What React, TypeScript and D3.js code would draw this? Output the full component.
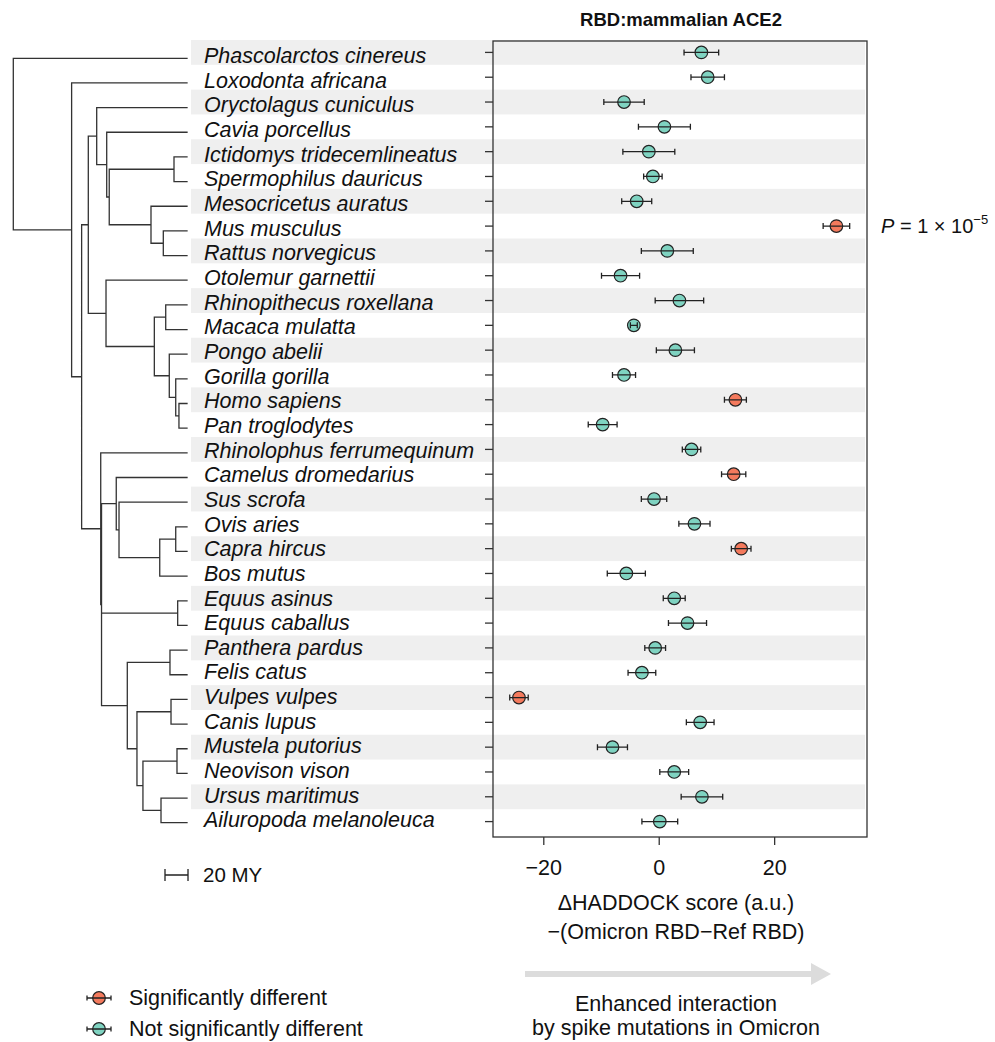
import React, { useEffect, useRef } from 'react';
import * as d3 from 'd3';

// species in tree order (top to bottom)
const species = [
  'Phascolarctos cinereus', 'Loxodonta africana', 'Oryctolagus cuniculus', 'Cavia porcellus',
  'Ictidomys tridecemlineatus', 'Spermophilus dauricus', 'Mesocricetus auratus', 'Mus musculus',
  'Rattus norvegicus', 'Otolemur garnettii', 'Rhinopithecus roxellana', 'Macaca mulatta',
  'Pongo abelii', 'Gorilla gorilla', 'Homo sapiens', 'Pan troglodytes',
  'Rhinolophus ferrumequinum', 'Camelus dromedarius', 'Sus scrofa', 'Ovis aries',
  'Capra hircus', 'Bos mutus', 'Equus asinus', 'Equus caballus',
  'Panthera pardus', 'Felis catus', 'Vulpes vulpes', 'Canis lupus',
  'Mustela putorius', 'Neovison vison', 'Ursus maritimus', 'Ailuropoda melanoleuca',
];

// delta HADDOCK score -(Omicron - Ref) and its error
const scores = [
  7.3, 8.4, -6.1, 0.9, -1.8, -1.1, -3.9, 30.7,
  1.4, -6.7, 3.5, -4.4, 2.8, -6.1, 13.2, -9.8,
  5.6, 12.9, -0.9, 6.1, 14.2, -5.7, 2.6, 4.9,
  -0.7, -3.0, -24.3, 7.1, -8.1, 2.6, 7.4, 0.1,
];
const errors = [
  3.0, 2.9, 3.5, 4.5, 4.5, 1.6, 2.6, 2.3,
  4.5, 3.3, 4.2, 0.6, 3.3, 2.0, 1.9, 2.5,
  1.6, 2.1, 2.2, 2.7, 1.7, 3.3, 1.9, 3.3,
  1.8, 2.4, 1.6, 2.4, 2.6, 2.5, 3.6, 3.1,
];
const significant = ['Mus musculus', 'Homo sapiens', 'Camelus dromedarius', 'Capra hircus', 'Vulpes vulpes'];

const xTicks = [-20, 0, 20];

// internal nodes: [name, age in MY, children]
const treeNodes: [string, number, string[]][] = [
  ['Mammalia', 151, ['Phascolarctos cinereus', 'Eutheria']],
  ['Eutheria', 100.3, ['Loxodonta africana', 'Boreoeutheria']],
  ['Boreoeutheria', 91.6, ['Euarchontoglires', 'Laurasiatheria']],
  ['Euarchontoglires', 85.8, ['Glires', 'Primates']],
  ['Glires', 78.5, ['Oryctolagus cuniculus', 'Rodentia']],
  ['Rodentia', 69.8, ['Cavia porcellus', 'Sciuromorpha']],
  ['Sciuromorpha', 67.6, ['Sciuridae', 'Muroidea']],
  ['Sciuridae', 11.3, ['Ictidomys tridecemlineatus', 'Spermophilus dauricus']],
  ['Muroidea', 31.3, ['Mesocricetus auratus', 'Murinae']],
  ['Murinae', 20.6, ['Mus musculus', 'Rattus norvegicus']],
  ['Primates', 70.4, ['Otolemur garnettii', 'Catarrhini']],
  ['Catarrhini', 28.4, ['Cercopithecidae', 'Hominidae']],
  ['Cercopithecidae', 18.5, ['Rhinopithecus roxellana', 'Macaca mulatta']],
  ['Hominidae', 15.4, ['Pongo abelii', 'Homininae']],
  ['Homininae', 9.8, ['Gorilla gorilla', 'Hominini']],
  ['Hominini', 7.0, ['Homo sapiens', 'Pan troglodytes']],
  ['Laurasiatheria', 75.0, ['Rhinolophus ferrumequinum', 'Scrotifera']],
  ['Scrotifera', 74.3, ['Cetartiodactyla', 'Equus', 'Carnivora']],
  ['Cetartiodactyla', 61.5, ['Camelus dromedarius', 'Artiofabula']],
  ['Artiofabula', 59.1, ['Sus scrofa', 'Ruminantia']],
  ['Ruminantia', 23.7, ['Caprini', 'Bos mutus']],
  ['Caprini', 9.8, ['Ovis aries', 'Capra hircus']],
  ['Equus', 8.1, ['Equus asinus', 'Equus caballus']],
  ['Carnivora', 51.9, ['Felidae', 'Caniformia']],
  ['Felidae', 14.8, ['Panthera pardus', 'Felis catus']],
  ['Caniformia', 43.5, ['Canidae', 'Arctoidea']],
  ['Canidae', 13.9, ['Vulpes vulpes', 'Canis lupus']],
  ['Arctoidea', 38.3, ['Mustelidae', 'Ursidae']],
  ['Mustelidae', 8.7, ['Mustela putorius', 'Neovison vison']],
  ['Ursidae', 22.6, ['Ursus maritimus', 'Ailuropoda melanoleuca']],
];

const W = 995, H = 1042;
const FONT = "'Liberation Sans', Arial, Helvetica, sans-serif";
const RED = '#f47a5d';
const TEAL = '#7fd3c1';
const INK = '#222';
const TXT = 21.5;

const App = () => {
  const ref = useRef<SVGSVGElement>(null);

  useEffect(() => {
    const svg = d3.select(ref.current);
    svg.selectAll('*').remove();
    svg.style('font-family', FONT);

    const x = d3.scaleLinear().domain([-28.8, 36]).range([493, 867]);
    const y = d3.scaleBand().domain(species).range([40, 834]);
    const cy = (s: string) => (y(s) as number) + y.bandwidth() / 2;

    // tree scales
    const tx = d3.scaleLinear().domain([151, 0]).range([13.3, 187]);
    const ty = d3.scalePoint().domain(species).range([58.3, 822.7]);

    // row shading
    svg.append('g')
      .selectAll('rect')
      .data(species.filter((_, i) => i % 2 === 0))
      .join('rect')
      .attr('x', 191)
      .attr('width', 865 - 191)
      .attr('y', d => y(d) as number)
      .attr('height', y.bandwidth())
      .attr('fill', '#efefef');

    // build tree
    const nodeMap = new Map(treeNodes.map(([id, age, kids]) => [id, { age, kids }]));
    const build = (id: string): any => {
      const n = nodeMap.get(id);
      return n ? { name: id, age: n.age, children: n.kids.map(build) } : { name: id, age: 0 };
    };
    const root: any = d3.hierarchy(build('Mammalia'));
    root.eachAfter((d: any) => {
      if (d.children) {
        const ys = d.children.map((c: any) => c.yy);
        d.yy = (d3.min(ys)! + d3.max(ys)!) / 2;
      } else {
        d.yy = ty(d.data.name);
      }
    });

    let path = '';
    root.each((d: any) => {
      if (!d.children) return;
      const px = tx(d.data.age);
      const ys = d.children.map((c: any) => c.yy);
      path += `M${px},${d3.min(ys)}V${d3.max(ys)}`;
      d.children.forEach((c: any) => {
        path += `M${px},${c.yy}H${tx(c.data.age)}`;
      });
    });
    svg.append('path')
      .attr('d', path)
      .attr('fill', 'none')
      .attr('stroke', '#333')
      .attr('stroke-width', 1.3)
      .attr('stroke-linecap', 'square');

    // species labels
    svg.append('g')
      .selectAll('text')
      .data(species)
      .join('text')
      .attr('x', 204)
      .attr('y', d => ty(d) as number)
      .attr('dy', '0.22em')
      .attr('font-size', TXT)
      .attr('font-style', 'italic')
      .attr('fill', '#111')
      .text(d => d);

    // panel frame
    svg.append('rect')
      .attr('x', x.range()[0])
      .attr('y', 41)
      .attr('width', x.range()[1] - x.range()[0])
      .attr('height', 837 - 41)
      .attr('fill', 'none')
      .attr('stroke', '#333')
      .attr('stroke-width', 1.3);

    // y ticks
    svg.append('g')
      .selectAll('line')
      .data(species)
      .join('line')
      .attr('x1', x.range()[0] - 8)
      .attr('x2', x.range()[0])
      .attr('y1', d => cy(d))
      .attr('y2', d => cy(d))
      .attr('stroke', '#333')
      .attr('stroke-width', 1.3);

    // x axis
    const xa = svg.append('g');
    xa.selectAll('line')
      .data(xTicks)
      .join('line')
      .attr('x1', d => x(d)).attr('x2', d => x(d))
      .attr('y1', 837).attr('y2', 845)
      .attr('stroke', '#333')
      .attr('stroke-width', 1.3);
    xa.selectAll('text')
      .data(xTicks)
      .join('text')
      .attr('x', d => x(d))
      .attr('y', 875)
      .attr('text-anchor', 'middle')
      .attr('font-size', TXT)
      .attr('fill', '#111')
      .text(d => d3.format('d')(d));

    // points with error bars
    const pts = svg.append('g')
      .selectAll('g')
      .data(species.map((s, i) => ({ s, v: scores[i], e: errors[i], sig: significant.includes(s) })))
      .join('g')
      .attr('transform', d => `translate(0,${cy(d.s)})`);
    pts.append('circle')
      .attr('cx', d => x(d.v))
      .attr('r', 6.3)
      .attr('fill', d => (d.sig ? RED : TEAL))
      .attr('stroke', INK)
      .attr('stroke-width', 1.2);
    pts.append('path')
      .attr('d', d => `M${x(d.v - d.e)},-3V3M${x(d.v - d.e)},0H${x(d.v + d.e)}M${x(d.v + d.e)},-3V3`)
      .attr('fill', 'none')
      .attr('stroke', INK)
      .attr('stroke-width', 1.3);

    // P value annotation
    const pText = svg.append('text')
      .attr('x', 881)
      .attr('y', cy('Mus musculus') + 7)
      .attr('font-size', 20)
      .attr('fill', '#111');
    pText.append('tspan').attr('font-style', 'italic').text('P');
    pText.append('tspan').text(' = 1 × 10');
    pText.append('tspan').attr('font-size', 13).attr('dy', -9).text('−5');

    // title
    svg.append('text')
      .attr('x', (x.range()[0] + x.range()[1]) / 2 + 1)
      .attr('y', 26)
      .attr('text-anchor', 'middle')
      .attr('font-size', 18.5)
      .attr('font-weight', 'bold')
      .attr('fill', '#111')
      .text('RBD:mammalian ACE2');

    // axis titles
    const cx = 676;
    const lines: [string, number][] = [
      ['ΔHADDOCK score (a.u.)', 910],
      ['−(Omicron RBD−Ref RBD)', 939],
      ['Enhanced interaction', 1011],
      ['by spike mutations in Omicron', 1035],
    ];
    svg.append('g')
      .selectAll('text')
      .data(lines)
      .join('text')
      .attr('x', cx)
      .attr('y', d => d[1])
      .attr('text-anchor', 'middle')
      .attr('font-size', TXT)
      .attr('fill', '#111')
      .text(d => d[0]);

    // arrow
    svg.append('line')
      .attr('x1', 525).attr('x2', 813)
      .attr('y1', 974).attr('y2', 974)
      .attr('stroke', '#dcdcdc')
      .attr('stroke-width', 6);
    svg.append('path')
      .attr('d', 'M811,963L831,974L811,985Z')
      .attr('fill', '#dcdcdc');

    // time scale bar
    const barLen = tx(0) - tx(20);
    svg.append('path')
      .attr('d', `M165,869V881M165,875H${165 + barLen}M${165 + barLen},869V881`)
      .attr('fill', 'none')
      .attr('stroke', INK)
      .attr('stroke-width', 1.3);
    svg.append('text')
      .attr('x', 203)
      .attr('y', 882)
      .attr('font-size', 20.5)
      .attr('fill', '#111')
      .text('20 MY');

    // legend
    const legend = [
      { label: 'Significantly different', fill: RED, yy: 998 },
      { label: 'Not significantly different', fill: TEAL, yy: 1029 },
    ];
    const lg = svg.append('g')
      .selectAll('g')
      .data(legend)
      .join('g')
      .attr('transform', d => `translate(99,${d.yy})`);
    lg.append('circle')
      .attr('r', 6.3)
      .attr('fill', d => d.fill)
      .attr('stroke', INK)
      .attr('stroke-width', 1.2);
    lg.append('path')
      .attr('d', 'M-12,-2.5V2.5M-12,0H12M12,-2.5V2.5')
      .attr('fill', 'none')
      .attr('stroke', INK)
      .attr('stroke-width', 1.3);
    lg.append('text')
      .attr('x', 30)
      .attr('y', 7)
      .attr('font-size', TXT)
      .attr('fill', '#111')
      .text(d => d.label);
  }, []);

  return (
    <svg
      ref={ref}
      width={W}
      height={H}
      style={{ position: 'absolute', left: 0, top: 0, background: '#fff' }}
    />
  );
};

export default App;
